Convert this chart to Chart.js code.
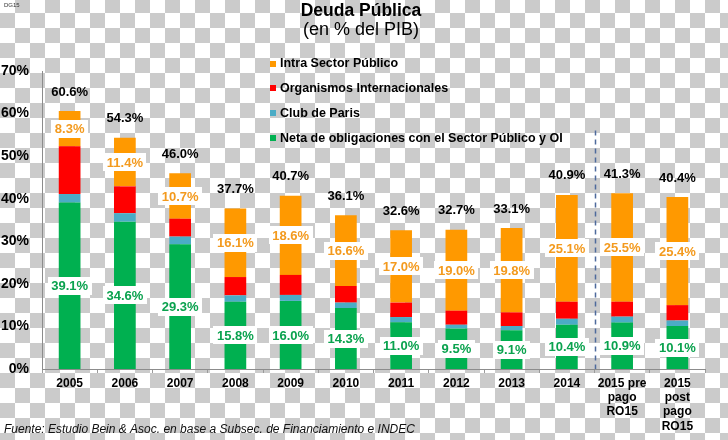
<!DOCTYPE html>
<html><head><meta charset="utf-8">
<script src="https://cdn.jsdelivr.net/npm/chart.js@4.4.1/dist/chart.umd.min.js"></script>
<style>
html,body{margin:0;padding:0;background:#fff;}
canvas{display:block;}
</style></head><body>
<canvas id="c" width="728" height="440"></canvas>
<script>
const categories = ['2005','2006','2007','2008','2009','2010','2011','2012','2013','2014',['2015 pre','pago','RO15'],['2015','post','pago','RO15']];
const neta = [39.1,34.6,29.3,15.8,16.0,14.3,11.0,9.5,9.1,10.4,10.9,10.1];
const clubParis = [2.0,2.0,1.8,1.5,1.4,1.3,1.2,0.9,1.0,1.4,1.4,1.3];
const organismos = [11.2,6.3,4.2,4.3,4.7,3.9,3.4,3.3,3.2,4.0,3.5,3.6];
const intra = [8.3,11.4,10.7,16.1,18.6,16.6,17.0,19.0,19.8,25.1,25.5,25.4];
const totals = [60.6,54.3,46.0,37.7,40.7,36.1,32.6,32.7,33.1,40.9,41.3,40.4];
const yTicks = [0,10,20,30,40,50,60,70];
const dividerAfterIndex = 9;
const dividerTopValue = 56;

const FONT = '"Liberation Sans", Arial, Helvetica, sans-serif';
const C_ORANGE = '#FF9900', C_RED = '#FF0000', C_TEAL = '#4BACC6', C_GREEN = '#00B050';
const T_ORANGE = '#F39A1E', T_GREEN = '#0AA24E';

const fmt = v => v.toFixed(1) + '%';

function boxLabel(ctx, text, x, y, color){
  ctx.font = 'bold 13px ' + FONT;
  const w = ctx.measureText(text).width + 7;
  const h = 18;
  ctx.fillStyle = '#ffffff';
  ctx.fillRect(Math.round(x - w/2), Math.round(y - h/2), Math.round(w), h);
  ctx.fillStyle = color;
  ctx.textAlign = 'center';
  ctx.textBaseline = 'middle';
  ctx.fillText(text, x, y + 1);
}

const checker = {
  id: 'checker',
  beforeDraw(chart){
    const ctx = chart.ctx, W = chart.width, H = chart.height, s = 15, oy = 13;
    ctx.save();
    ctx.fillStyle = '#ffffff';
    ctx.fillRect(0, 0, W, H);
    ctx.fillStyle = '#cbcbcb';
    for (let r = -1; r * s + oy < H; r++) {
      for (let c = 0; c * s < W; c++) {
        if ((((r + c) % 2) + 2) % 2 === 0) ctx.fillRect(c * s, r * s + oy, s, s);
      }
    }
    ctx.restore();
  }
};

const overlay = {
  id: 'overlay',
  afterDatasetsDraw(chart){
    const ctx = chart.ctx;
    const xs = chart.scales.x, ys = chart.scales.y;
    ctx.save();
    const dx = (xs.getPixelForValue(dividerAfterIndex) + xs.getPixelForValue(dividerAfterIndex + 1)) / 2;
    ctx.strokeStyle = '#4E6A9C';
    ctx.lineWidth = 1.5;
    ctx.setLineDash([5,4]);
    ctx.beginPath();
    ctx.moveTo(Math.round(dx) + 0.5, ys.getPixelForValue(dividerTopValue));
    ctx.lineTo(Math.round(dx) + 0.5, ys.getPixelForValue(0));
    ctx.stroke();
    ctx.setLineDash([]);
    const mG = chart.getDatasetMeta(0), mO = chart.getDatasetMeta(3);
    categories.forEach((c, i) => {
      const g = mG.data[i].getProps(['x','y','base'], true);
      const o = mO.data[i].getProps(['x','y','base'], true);
      boxLabel(ctx, fmt(neta[i]), g.x, (g.y + g.base) / 2, T_GREEN);
      boxLabel(ctx, fmt(intra[i]), o.x, (o.y + o.base) / 2, T_ORANGE);
      ctx.font = 'bold 13px ' + FONT;
      ctx.fillStyle = '#000';
      ctx.textAlign = 'center';
      ctx.textBaseline = 'middle';
      ctx.fillText(fmt(totals[i]), o.x, o.y - 19);
    });
    ctx.restore();
  },
  afterDraw(chart){
    const ctx = chart.ctx;
    ctx.save();
    ctx.fillStyle = '#000';
    ctx.textAlign = 'center';
    ctx.textBaseline = 'middle';
    ctx.font = 'bold 17.5px ' + FONT;
    ctx.fillText('Deuda Pública', 361, 11);
    ctx.font = '18px ' + FONT;
    ctx.fillText('(en % del PIB)', 361, 30);
    const items = [
      ['Intra Sector Público', C_ORANGE],
      ['Organismos Internacionales', C_RED],
      ['Club de Paris', C_TEAL],
      ['Neta de obligaciones con el Sector Público y OI', C_GREEN]
    ];
    ctx.textAlign = 'left';
    ctx.font = 'bold 12.5px ' + FONT;
    items.forEach((it, k) => {
      const yy = 63.5 + k * 24.7;
      ctx.fillStyle = it[1];
      ctx.fillRect(270, Math.round(yy - 3), 6, 6);
      ctx.fillStyle = '#000';
      ctx.fillText(it[0], 280, yy + 0.5);
    });
    ctx.font = 'italic 12px ' + FONT;
    ctx.fillStyle = '#111';
    ctx.fillText('Fuente: Estudio Bein & Asoc. en base a Subsec. de Financiamiento e INDEC', 4, 430);
    ctx.font = '6px ' + FONT;
    ctx.fillStyle = '#333';
    ctx.fillText('DG15', 4, 5);
    ctx.restore();
  }
};

const ds = (label, data, color) => ({label, data, backgroundColor: color, borderWidth: 0, barPercentage: 0.393, categoryPercentage: 1.0, stack: 's'});

new Chart(document.getElementById('c'), {
  type: 'bar',
  data: {
    labels: categories,
    datasets: [
      ds('Neta de obligaciones con el Sector Público y OI', neta, C_GREEN),
      ds('Club de Paris', clubParis, C_TEAL),
      ds('Organismos Internacionales', organismos, C_RED),
      ds('Intra Sector Público', intra, C_ORANGE)
    ]
  },
  options: {
    responsive: false,
    animation: false,
    devicePixelRatio: 1,
    layout: { padding: { top: 71, right: 23, left: 0, bottom: 0 } },
    plugins: { legend: { display: false }, title: { display: false }, tooltip: { enabled: false } },
    scales: {
      x: {
        stacked: true,
        grid: { display: true, drawOnChartArea: false, drawTicks: true, tickLength: 4, color: '#9a9a9a', offset: true },
        border: { display: true, color: '#8c8c8c', width: 1 },
        ticks: { color: '#000', font: { family: FONT, size: 12, weight: 'bold', lineHeight: 1.2 }, padding: 3, maxRotation: 0, autoSkip: false },
        afterFit(s){ s.height = 71; }
      },
      y: {
        stacked: true,
        min: 0, max: 70,
        afterBuildTicks(s){ s.ticks = yTicks.map(v => ({value: v})); },
        grid: { display: false, drawTicks: false },
        border: { display: true, color: '#8c8c8c', width: 1 },
        ticks: { color: '#000', font: { family: FONT, size: 14, weight: 'bold' }, padding: 13, callback: v => v + '%' },
        afterFit(s){ s.width = 42; }
      }
    }
  },
  plugins: [checker, overlay]
});
</script>
</body></html>
